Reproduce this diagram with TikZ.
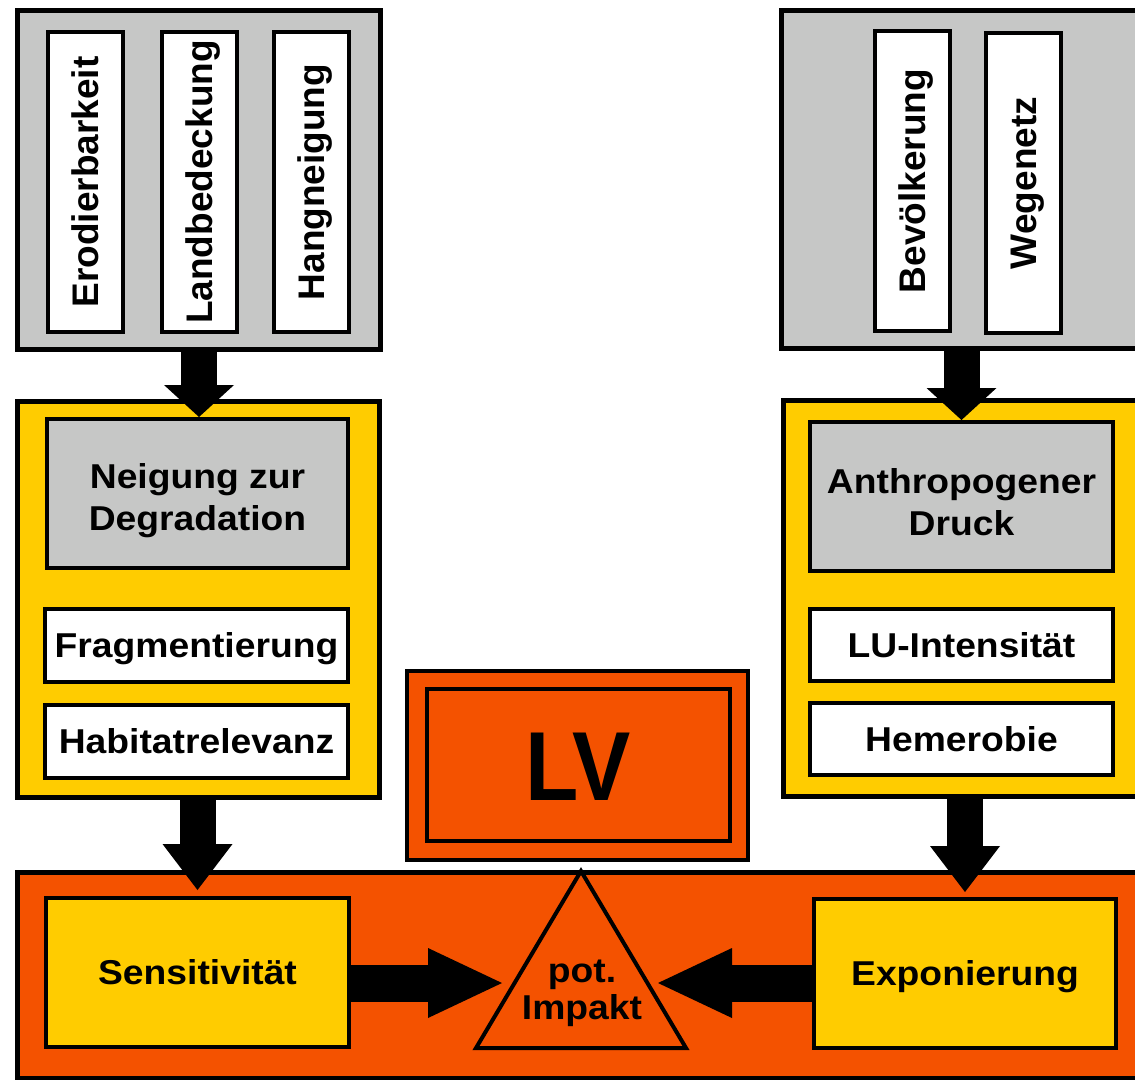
\documentclass[tikz,border=0pt]{standalone}
\usepackage{fontspec}
\setmainfont{Liberation Sans}
\newfontfamily\hfont[FakeStretch=1.08]{Liberation Sans}
\usetikzlibrary{arrows.meta}
\definecolor{grayfill}{HTML}{C6C7C6}
\definecolor{yel}{HTML}{FFCC00}
\definecolor{ora}{HTML}{F45200}
\tikzset{
  bigbox/.style={draw=black, line width=5pt, inner sep=0pt},
  smallbox/.style={draw=black, line width=4pt, inner sep=0pt},
  htext/.style={font=\hfont\bfseries\fontsize{34.5}{42}\selectfont, text=black},
  vtext/.style={font=\bfseries\fontsize{37}{40}\selectfont, text=black, rotate=90,
    minimum width=300pt, minimum height=75pt, text height=26.5pt, text depth=0pt},
  oneline/.style={text height=24.7pt, text depth=0pt},
  varrowtop/.style={draw=black, line width=36pt, -{Triangle[width=70pt,length=32pt,line width=0pt]}},
  varrowbot/.style={draw=black, line width=36pt, -{Triangle[width=70pt,length=46pt,line width=0pt]}},
  harrow/.style={draw=black, line width=37pt, -{Triangle[width=70pt,length=74pt,line width=0pt]}}
}
\begin{document}
\begin{tikzpicture}[x=1pt,y=-1pt]
\useasboundingbox (0,0) rectangle (1135,1079);
\clip (0,0) rectangle (1135,1079);
\fill[white] (0,0) rectangle (1135,1079);

% top grey boxes
\node[bigbox, fill=grayfill, minimum width=363pt, minimum height=339pt] (gL) at (199,180) {};
\node[bigbox, fill=grayfill, minimum width=396pt, minimum height=338pt] (gR) at (979.5,179.5) {};
\node[smallbox, fill=white, vtext] (w1) at (85.5,182) {Erodierbarkeit};
\node[smallbox, fill=white, vtext] (w2) at (199.5,182) {Landbedeckung};
\node[smallbox, fill=white, vtext] (w3) at (311,182) {Hangneigung};
\node[smallbox, fill=white, vtext] (w4) at (912,181) {Bevölkerung};
\node[smallbox, fill=white, vtext] (w5) at (1023.5,183) {Wegenetz};

% yellow boxes
\node[bigbox, fill=yel, minimum width=362pt, minimum height=396pt] (yL) at (198.5,599.5) {};
\node[bigbox, fill=yel, minimum width=394pt, minimum height=396pt] (yR) at (980.5,598.5) {};
\node[smallbox, fill=grayfill, minimum width=301pt, minimum height=149pt] (neig) at (197.5,493.5) {};
\node[htext, align=center, text depth=0pt] (neigt) at ([yshift=-3pt]neig.center) {Neigung zur\\Degradation};
\node[smallbox, fill=white, htext, oneline, minimum width=303pt, minimum height=73pt] (frag) at (196.5,645.5) {Fragmentierung};
\node[smallbox, fill=white, htext, oneline, minimum width=303pt, minimum height=73pt] (habi) at (196.5,741.5) {Habitatrelevanz};
\node[smallbox, fill=grayfill, minimum width=303pt, minimum height=149pt] (anth) at (961.5,496.5) {};
\node[htext, align=center, text depth=0pt] (antht) at ([yshift=-5pt]anth.center) {Anthropogener\\Druck};
\node[smallbox, fill=white, htext, oneline, minimum width=303pt, minimum height=72pt] (lui) at (961.5,645) {LU-Intensität};
\node[smallbox, fill=white, htext, oneline, minimum width=303pt, minimum height=72pt] (heme) at (961.5,739) {Hemerobie};

% LV box
\node[bigbox, line width=4pt, fill=ora, minimum width=341pt, minimum height=189pt] (lvO) at (577.5,765.5) {};
\node[smallbox, fill=ora, minimum width=303pt, minimum height=152pt, text height=70pt, text depth=0pt] (lvI) at (578.5,765) {\scalebox{0.97}[1.09]{\bfseries\fontsize{90}{90}\selectfont LV}};

% bottom orange box
\node[bigbox, fill=ora, minimum width=1160pt, minimum height=206pt] (oB) at (597.5,975.5) {};
\node[smallbox, fill=yel, htext, oneline, minimum width=303pt, minimum height=149pt] (sens) at (197.5,972.5) {Sensitivität};
\node[smallbox, fill=yel, htext, oneline, minimum width=302pt, minimum height=149pt] (expo) at (965,973.5) {Exponierung};

% triangle
\draw[smallbox, fill=ora, line join=miter] (581,871) coordinate (tA) -- (686,1048) coordinate (tB) -- (476,1048) coordinate (tC) -- cycle;
\node[htext, font=\hfont\bfseries\fontsize{34.5}{37}\selectfont, align=center, text depth=0pt] (imp) at (582,990) {pot.\\Impakt};
\coordinate (tl) at (502,983);
\coordinate (tr) at (658,983);

% arrows
\draw[varrowtop] (gL.south) -- (gL.south |- neig.north);
\draw[varrowtop] (gR.south -| anth.north) -- (anth.north);
\draw[varrowbot] (yL.south -| sens.north) -- ([yshift=6pt]sens.north);
\draw[varrowbot] (yR.south -| expo.north) -- ([yshift=5pt]expo.north);
\draw[harrow] (sens.east |- tl) -- (tl);
\draw[harrow] (expo.west |- tr) -- (tr);
\end{tikzpicture}
\end{document}
